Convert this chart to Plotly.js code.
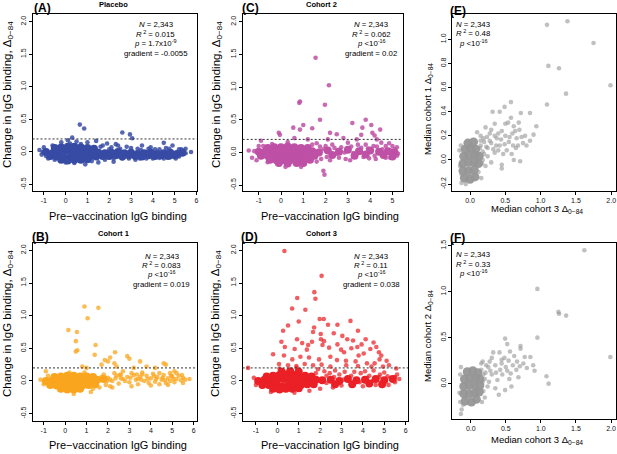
<!DOCTYPE html>
<html><head><meta charset="utf-8">
<script src="https://cdn.plot.ly/plotly-3.0.1.min.js"></script>
<style>html,body{margin:0;padding:0;background:#fff}#chart{width:617px;height:454px}</style>
</head><body><div id="chart"></div>
<script>
// ---------------- DATA ----------------
const panelLetters = ['(A)','(C)','(E)','(B)','(D)','(F)'];
const panelTitles = ['Placebo','Cohort 2','','Cohort 1','Cohort 3',''];
const xTitleChange = 'Pre\u2212vaccination IgG binding';
const yTitleChange = 'Change in IgG binding, \u0394<sub>0\u221284</sub>';
const xTitleMedian = 'Median cohort 3 \u0394<sub>0\u221284</sub>';
const yTitleMedianE = 'Median cohort 1 \u0394<sub>0\u221284</sub>';
const yTitleMedianF = 'Median cohort 2 \u0394<sub>0\u221284</sub>';

const statsA = ['<i>N</i> = 2,343','<i>R</i><sup> 2</sup> = 0.015','<i>p</i> = 1.7x10<sup>-9</sup>','gradient = -0.0055'];
const statsC = ['<i>N</i> = 2,343','<i>R</i><sup> 2</sup> = 0.062','<i>p</i> <10<sup>-16</sup>','gradient = 0.02'];
const statsE = ['<i>N</i> = 2,343','<i>R</i><sup> 2</sup> = 0.48','<i>p</i> <10<sup>-16</sup>'];
const statsB = ['<i>N</i> = 2,343','<i>R</i><sup> 2</sup> = 0.083','<i>p</i> <10<sup>-16</sup>','gradient = 0.019'];
const statsD = ['<i>N</i> = 2,343','<i>R</i><sup> 2</sup> = 0.11','<i>p</i> <10<sup>-16</sup>','gradient = 0.038'];
const statsF = ['<i>N</i> = 2,343','<i>R</i><sup> 2</sup> = 0.33','<i>p</i> <10<sup>-16</sup>'];

const thresholdDelta = 0.2;

const changeYTicks = [-0.5,0,0.5,1,1.5,2];
const changeYText = ['-0.5','0.0','0.5','1.0','1.5','2.0'];
const preXTicks6 = [-1,0,1,2,3,4,5,6];
const preXText6 = ['-1','0','1','2','3','4','5','6'];
const preXTicks5 = [-1,0,1,2,3,4,5];
const preXText5 = ['-1','0','1','2','3','4','5'];
const medXTicks = [0,0.5,1,1.5,2];
const medXText = ['0.0','0.5','1.0','1.5','2.0'];
const medYTicksE = [-0.2,0,0.2,0.4,0.6,0.8,1.0];
const medYTextE = ['-0.2','0.0','0.2','0.4','0.6','0.8','1.0'];
const medYTicksF = [0,0.5,1,1.5];
const medYTextF = ['0.0','0.5','1.0','1.5'];

// Placebo: dense band (core) and individual points [pre, change]
const placeboCore = [[-0.9,0.0],[-0.6,-0.02],[-0.3,0.01],[0.0,0.02],[0.3,0.0],[0.6,0.01],[0.9,-0.01],[1.2,0.0],[1.5,-0.01],[1.8,-0.02],
[-0.7,-0.06],[-0.4,-0.07],[-0.1,-0.08],[0.2,-0.08],[0.5,-0.09],[0.8,-0.08],[1.1,-0.07],[1.4,-0.07],[1.7,-0.06],
[-0.5,0.06],[-0.2,0.07],[0.1,0.08],[0.4,0.08],[0.7,0.07],[1.0,0.06],[1.3,0.05],
[-0.2,-0.12],[0.1,-0.13],[0.4,-0.12],[0.7,-0.12],[1.0,-0.11],
[2.1,-0.01],[2.4,0.0],[2.7,-0.02],[3.0,-0.01],[3.3,-0.03],[3.6,-0.02],[3.9,-0.01],[4.2,-0.03],[4.5,-0.02],[4.8,-0.01],[5.1,-0.03],[5.35,-0.01],
[2.0,-0.06],[2.3,-0.05],[2.6,-0.07],[2.9,-0.05],[3.2,-0.06],[3.5,-0.07],[3.8,-0.05],[4.1,-0.06],[4.4,-0.05],[4.7,-0.06],[5.0,-0.05]];
const placeboPts = [[0.65,0.42],[0.85,0.36],[2.6,0.3],[2.95,0.27],[3.05,0.21],[0.3,0.22],[0.1,0.18],[-0.2,0.15],[1.4,0.17],[1.9,0.13],[2.3,0.12],[4.5,0.14],[4.9,0.1],[3.5,0.1],[-1.2,0.03],[5.75,0.0],[5.5,-0.02],[2.2,-0.15],[0.9,-0.19],[-0.8,-0.1],[1.5,-0.16],[3.2,-0.12],[4.0,-0.1],[5.2,-0.07],[-1.0,0.07],[1.0,0.15],[0.5,0.16],[2.8,0.08],[3.9,0.07],[4.6,0.06],[5.3,0.04],[0.0,-0.16],[0.4,-0.17],[1.2,-0.14],[2.6,-0.1],[4.3,-0.09],[-1.1,-0.04],[-0.6,0.1],[1.7,0.1],[2.1,0.07],[3.3,0.05],[4.1,0.04],[4.8,-0.08],[5.4,0.02],[3.7,-0.1],[2.4,0.1],[1.8,-0.12],[-0.5,-0.12],[0.7,0.12],[0.2,0.13],
[2.0,0.04],[2.5,0.05],[3.0,0.06],[3.45,0.03],[3.8,0.05],[4.3,0.04],[4.75,0.05],[5.2,0.04],[2.2,-0.1],[2.9,-0.1],[3.4,-0.1],[4.5,-0.1],[5.05,-0.1],[5.5,0.05],[-0.9,-0.06],[-1.05,0.0],[1.6,0.08],[1.9,-0.08]];

// Cohort 2
const cohort2Core = [[-1.0,0.01],[-0.7,0.02],[-0.4,0.01],[-0.1,0.0],[0.2,0.02],[0.5,0.01],[0.8,0.0],[1.1,0.01],[1.4,0.02],[1.7,0.0],
[-0.6,0.07],[-0.3,0.08],[0.0,0.08],[0.3,0.09],[0.6,0.08],[0.9,0.07],[1.2,0.07],
[-0.9,-0.05],[-0.6,-0.05],[-0.3,-0.06],[0.0,-0.06],[0.3,-0.05],[0.6,-0.06],[0.9,-0.05],[1.2,-0.06],[1.5,-0.05],
[-0.5,-0.11],[-0.2,-0.12],[0.1,-0.12],[0.4,-0.12],[0.7,-0.11],[1.0,-0.12],[1.3,-0.11],
[-0.1,-0.16],[0.3,-0.17],[0.7,-0.16],[1.0,-0.16],
[2.1,0.03],[2.6,0.01],[3.0,0.04],[3.5,0.02],[4.0,0.03],[4.4,0.01],[4.8,0.02],[5.1,0.0],
[2.3,-0.04],[3.3,-0.05],[3.8,-0.03],[4.6,-0.04],[5.0,-0.06]];
const cohort2Pts = [[1.55,1.45],[2.15,1.03],[0.85,0.78],[0.82,0.76],[1.97,0.73],[1.75,0.5],[3.2,0.45],[3.8,0.5],[3.65,0.38],[4.05,0.42],[4.1,0.3],[4.2,0.26],[4.45,0.35],[1.0,0.42],[1.4,0.37],[0.85,0.35],[0.55,0.38],[2.2,0.3],[2.5,0.28],[-0.1,0.3],[-0.05,0.27],[2.1,0.2],[2.8,0.22],[3.4,0.2],[1.9,-0.28],[1.95,-0.34],[-0.6,-0.15],[-1.1,-0.12],[-1.45,0.03],[5.2,-0.05],[5.1,0.05],[4.7,0.1],[4.5,0.15],[3.1,-0.12],[2.6,-0.08],[3.0,0.15],[3.8,0.12],[-0.9,0.18],[0.6,0.22],[1.2,0.2],[2.9,-0.1],[4.9,-0.08],[5.0,0.1],[4.2,-0.05],[1.6,0.14],[2.0,0.1],[2.4,0.07],[3.6,0.07],[4.3,0.09],[-1.3,-0.08],[-0.4,0.13],[0.3,0.16],[1.4,0.12],[1.8,-0.1],[2.2,-0.12],[0.2,-0.22],[0.9,-0.22],[-1.0,0.1],[3.6,0.27],[4.3,0.2],
[1.9,0.05],[2.3,0.12],[2.5,-0.02],[2.7,0.08],[2.85,0.0],[3.15,0.09],[3.25,-0.01],[3.45,0.12],[3.7,-0.07],[3.9,0.06],[4.15,0.1],[4.25,-0.1],[4.55,0.05],[4.7,-0.08],[4.85,0.14],[4.95,0.03],[5.2,0.08],[5.25,-0.02],[3.95,-0.09],[2.05,-0.07],[1.75,0.09],[-1.2,0.02],[-0.8,0.1],[1.6,-0.14]];

// Cohort 1
const cohort1Core = [[-0.9,0.0],[-0.6,0.01],[-0.3,0.0],[0.0,0.01],[0.3,0.0],[0.6,0.01],[0.9,0.02],[1.2,0.01],[1.5,0.02],[1.8,0.03],
[-0.7,-0.06],[-0.4,-0.07],[-0.1,-0.08],[0.2,-0.09],[0.5,-0.08],[0.8,-0.07],[1.1,-0.06],[1.4,-0.05],
[-0.5,0.06],[-0.2,0.07],[0.1,0.08],[0.4,0.08],[0.7,0.07],[1.0,0.07],[1.3,0.06],
[-0.2,-0.12],[0.1,-0.13],[0.4,-0.13],[0.7,-0.12]];
const cohort1Pts = [[0.9,1.14],[1.55,1.12],[1.05,0.96],[0.15,0.78],[0.55,0.75],[0.5,0.61],[0.57,0.47],[0.5,0.45],[1.42,0.55],[1.38,0.4],[2.33,0.44],[2.1,0.36],[1.85,0.32],[2.0,0.3],[2.3,0.27],[2.9,0.38],[3.0,0.34],[3.5,0.3],[4.6,0.27],[4.7,0.25],[2.4,0.22],[1.7,0.25],[3.2,0.2],[3.8,0.22],[4.2,0.2],[5.1,0.15],[5.8,0.03],[-0.9,0.15],[0.8,0.22],[1.0,0.2],[-1.15,0.02],[0.4,-0.2],[1.2,-0.17],[2.2,-0.1],[3.1,-0.08],[4.4,-0.05],[5.5,-0.03],[2.7,0.15],[3.6,0.13],[4.9,0.12],[2.6,0.1],
[2.0,0.05],[2.2,0.0],[2.4,0.08],[2.5,-0.04],[2.7,0.03],[2.9,0.06],[3.0,-0.02],[3.2,0.09],[3.3,0.02],[3.4,-0.05],[3.5,0.06],[3.7,0.0],[3.8,0.08],[3.9,-0.03],[4.0,0.04],[4.1,0.11],[4.2,-0.01],[4.3,0.06],[4.5,0.02],[4.6,0.09],[4.7,-0.03],[4.8,0.04],[4.9,0.0],[5.0,0.07],[5.1,-0.02],[5.2,0.03],[5.3,0.08],[5.4,0.01],[5.5,0.05],[5.6,0.02],[1.8,0.1],[1.9,-0.06],[2.1,-0.08],[3.6,0.1],[4.4,0.12],[5.2,0.12],[2.3,0.12],[3.1,0.12],[4.0,-0.07],[4.8,-0.06],[1.6,-0.1],[1.7,0.06],[2.6,0.04],[3.4,0.03],[4.55,0.05],
[2.1,0.02],[2.35,0.04],[2.8,0.0],[3.05,0.05],[3.55,0.02],[3.85,0.03],[4.25,0.03],[4.65,0.01],[5.05,0.03],[5.45,0.09],[2.55,0.09],[3.35,0.1],[4.15,0.08],[4.95,0.08],[1.95,0.0],[-1.0,-0.05],[-0.8,0.08],[0.2,0.13],[0.9,0.13],[1.3,-0.12]];

// Cohort 3
const cohort3Core = [[-0.9,0.0],[-0.6,0.02],[-0.3,0.01],[0.0,0.02],[0.3,0.03],[0.6,0.02],[0.9,0.03],[1.2,0.02],[1.5,0.03],[1.8,0.02],[2.1,0.01],
[-0.7,-0.06],[-0.4,-0.06],[-0.1,-0.07],[0.2,-0.08],[0.5,-0.07],[0.8,-0.06],[1.1,-0.06],[1.4,-0.05],[1.7,-0.05],
[-0.5,0.07],[-0.2,0.08],[0.1,0.09],[0.4,0.1],[0.7,0.1],[1.0,0.09],[1.3,0.08],[1.6,0.07],
[-0.2,-0.12],[0.1,-0.13],[0.4,-0.12],[0.7,-0.12],[1.0,-0.11],
[0.2,0.14],[0.6,0.15],[1.0,0.14],
[2.5,0.02],[2.9,0.0],[3.3,0.03],[3.7,0.01],[4.1,0.02],[4.6,0.03],[5.0,0.01],[5.4,0.03],
[2.7,-0.05],[3.5,-0.05],[4.3,-0.04],[4.9,-0.05]];
const cohort3Pts = [[0.33,1.99],[2.07,1.61],[1.73,1.36],[1.78,1.26],[0.93,1.27],[1.31,1.09],[0.69,1.11],[1.0,0.91],[1.98,0.95],[2.17,0.95],[0.5,0.85],[2.37,0.86],[2.81,0.86],[3.42,0.92],[0.27,0.77],[1.72,0.82],[1.67,0.75],[2.03,0.72],[2.64,0.73],[3.04,0.69],[3.77,0.77],[2.04,0.64],[0.92,0.64],[0.19,0.6],[1.16,0.58],[1.62,0.6],[2.18,0.61],[3.27,0.64],[1.44,0.55],[2.11,0.55],[2.81,0.56],[3.54,0.62],[4.13,0.64],[3.94,0.56],[4.5,0.59],[0.35,0.52],[0.81,0.49],[1.38,0.48],[2.42,0.51],[2.98,0.48],[3.12,0.44],[3.46,0.5],[3.74,0.52],[4.04,0.42],[4.35,0.49],[4.63,0.52],[4.75,0.44],[4.86,0.39],[4.78,0.33],[5.11,0.31],[5.22,0.24],[-0.2,0.41],[0.31,0.39],[0.7,0.33],[1.08,0.37],[1.48,0.36],[1.95,0.33],[2.48,0.37],[2.79,0.32],[3.21,0.31],[3.66,0.3],[3.8,0.39],[4.19,0.27],[4.55,0.27],[0.08,0.26],[0.5,0.24],[0.89,0.23],[1.28,0.26],[1.67,0.24],[2.07,0.25],[2.48,0.22],[3.22,0.24],[3.77,0.23],[4.4,0.22],[4.94,0.22],[5.56,0.19],[-1.37,0.2],
[1.8,0.12],[2.3,0.08],[2.9,0.1],[3.3,0.05],[3.9,0.12],[4.3,0.08],[4.8,0.1],[5.3,0.05],[5.6,0.1],[5.7,0.03],[5.5,-0.02],[4.6,-0.06],[3.5,-0.05],[2.6,-0.1],[1.5,-0.15],[0.8,-0.18],[-0.3,-0.17],[-1.1,0.05],[-1.0,-0.06],[2.2,0.15],[3.0,-0.07],[4.0,-0.08],[5.2,-0.06],[2.0,-0.12],[3.6,0.14],[4.5,0.16],[5.0,0.13],[2.7,0.16],
[2.3,-0.03],[2.65,0.06],[3.1,0.02],[3.45,0.08],[3.85,-0.02],[4.2,0.05],[4.45,0.0],[4.75,0.06],[5.15,0.07],[5.5,0.06],[2.45,0.12],[3.15,0.14],[4.1,0.15],[1.9,0.18],[0.9,0.2],[0.1,0.19]];

// Median cohort 3 vs median cohort 1 (E)
const medianECore = [[-0.08,-0.15],[0.0,-0.16],[0.07,-0.14],[-0.1,-0.09],[-0.02,-0.09],[0.06,-0.08],[-0.1,-0.03],[-0.02,-0.02],[0.06,-0.02],[0.12,-0.03],[-0.09,0.03],[-0.01,0.04],[0.07,0.04],[0.13,0.03],[-0.07,0.09],[0.01,0.1],[0.08,0.09],[-0.03,0.14],[0.05,0.15]];
const medianEPts = [[1.09,1.12],[1.38,1.15],[1.75,0.97],[1.11,0.78],[1.26,0.76],[1.36,0.55],[1.99,0.62],[1.09,0.46],[0.58,0.48],[0.49,0.44],[0.32,0.4],[0.42,0.4],[0.72,0.39],[0.85,0.39],[0.94,0.28],[0.9,0.21],[0.73,0.19],[0.69,0.31],[0.54,0.31],[0.64,0.24],[0.45,0.24],[0.35,0.2],[0.28,0.16],[0.49,0.13],[0.23,0.11],[0.4,0.08],[0.59,0.05],[0.45,-0.04],[0.71,-0.01],[0.3,-0.02],[0.1,0.23],[0.19,0.18],
[0.15,0.12],[0.2,0.05],[0.25,0.1],[0.3,0.14],[0.35,0.06],[0.38,0.18],[0.42,0.12],[0.5,0.2],[0.55,0.15],[0.6,0.22],[0.65,0.1],[0.7,0.25],[0.8,0.12],[0.5,0.3],[0.18,0.0],[0.22,-0.05],[0.3,0.25],[0.15,0.2],[0.12,-0.1],[0.16,-0.15],[-0.12,-0.19],[-0.06,-0.2],[-0.15,0.08],[-0.14,-0.05],[0.14,0.1],[0.2,0.15],[0.25,0.03],[0.52,0.08],[0.62,0.0],[0.68,0.12],[0.78,0.2],[0.85,0.16],[0.58,0.35],[0.45,-0.07],[0.35,0.3],[0.62,0.28],[0.4,0.22],[0.28,0.22],
[0.18,0.07],[0.24,0.19],[0.33,0.09],[0.37,0.12],[0.44,0.17],[0.47,0.05],[0.56,0.19],[0.61,0.12],[0.66,0.18],[0.75,0.14],[0.22,0.27],[0.17,-0.03],[-0.13,0.12],[-0.12,-0.12],[0.15,0.16]];

// Median cohort 3 vs median cohort 2 (F)
const medianFCore = [[-0.08,-0.19],[0.01,-0.2],[0.08,-0.17],[-0.1,-0.11],[-0.02,-0.11],[0.06,-0.1],[0.12,-0.09],[-0.1,-0.03],[-0.02,-0.02],[0.06,-0.02],[0.13,-0.02],[-0.09,0.05],[-0.01,0.06],[0.07,0.06],[0.13,0.05],[-0.05,0.13],[0.03,0.14],[0.1,0.12]];
const medianFPts = [[1.62,1.45],[0.95,1.03],[1.25,0.78],[1.26,0.76],[1.36,0.74],[0.95,0.5],[1.99,0.29],[1.08,0.08],[1.11,0.0],[0.49,0.49],[0.52,0.43],[0.71,0.41],[0.71,0.38],[0.32,0.34],[0.41,0.34],[0.56,0.35],[0.77,0.29],[0.85,0.29],[0.89,0.2],[0.91,0.14],[0.66,0.24],[0.54,0.25],[0.44,0.22],[0.27,0.24],[0.17,0.24],[0.25,0.18],[0.42,0.15],[0.57,0.11],[0.68,0.07],[0.58,-0.03],[0.4,-0.12],[0.49,-0.07],[-0.13,-0.28],[-0.14,-0.33],[-0.11,-0.23],[0.21,0.12],
[0.15,0.15],[0.2,0.05],[0.3,0.1],[0.35,0.2],[0.45,0.1],[0.5,0.18],[0.6,0.2],[0.65,0.15],[0.75,0.22],[0.55,0.05],[0.3,0.28],[0.18,-0.08],[0.2,-0.15],[-0.15,0.1],[-0.16,-0.1],[0.15,0.22],[0.38,0.04],[0.48,0.28],[0.62,0.3],[0.8,0.17],[0.26,0.02],[0.35,-0.05],
[0.22,0.2],[0.28,0.14],[0.36,0.12],[0.44,0.26],[0.52,0.14],[0.7,0.19],[0.18,0.1],[0.24,-0.03],[-0.14,0.18],[-0.15,-0.2],[0.16,-0.2],[0.17,0.02]];

// ---------------- LAYOUT / STYLE ----------------
const W = 617, H = 454;
const FONT = '"Liberation Sans", Arial, Helvetica, sans-serif';
const px = v => v / W;
const py = v => 1 - v / H;

const panels = [
  {core: placeboCore, pts: placeboPts, rgb:'55,75,165', coreA:1, ptA:0.85, box:[32.5,196.7,14,191], xr:[-1.52,6.01], yr:[-0.599,2.118], xt:[preXTicks6,preXText6], yt:[changeYTicks,changeYText], dash:true,
   stats: statsA, statX: 156, statY:[25,34,43,53.5], xTitle:[xTitleChange,118,216,11], yTitle:[yTitleChange,8,95,11.5]},
  {core: cohort2Core, pts: cohort2Pts, rgb:'190,80,165', coreA:1, ptA:0.85, box:[242.7,402.7,14,191], xr:[-1.72,5.46], yr:[-0.59,2.12], xt:[preXTicks5,preXText5], yt:[changeYTicks,changeYText], dash:true,
   stats: statsC, statX: 371, statY:[25,34,43,53.5], xTitle:[xTitleChange,330,216,11], yTitle:[yTitleChange,217,95,11.5]},
  {core: medianECore, pts: medianEPts, rgb:'150,150,150', coreA:0.95, ptA:0.6, box:[452.3,616,14,191], xr:[-0.251,2.068], yr:[-0.257,1.21], xt:[medXTicks,medXText], yt:[medYTicksE,medYTextE], dash:false,
   stats: statsE, statX: 473, statY:[24.5,33,42.5], xTitle:[xTitleMedian,537,209,9.5], yTitle:[yTitleMedianE,428,109,9.5], big:true},
  {core: cohort1Core, pts: cohort1Pts, rgb:'250,165,30', coreA:1, ptA:0.75, box:[33,196.7,243,421], xr:[-1.5,6.14], yr:[-0.613,2.113], xt:[preXTicks6,preXText6], yt:[changeYTicks,changeYText], dash:true,
   stats: statsB, statX: 161.5, statY:[256.5,265,274,284.5], xTitle:[xTitleChange,118,445,11], yTitle:[yTitleChange,8,324,11.5]},
  {core: cohort3Core, pts: cohort3Pts, rgb:'234,32,38', coreA:1, ptA:0.72, box:[242.7,408,243,421], xr:[-1.62,6.11], yr:[-0.613,2.113], xt:[preXTicks6,preXText6], yt:[changeYTicks,changeYText], dash:true,
   stats: statsD, statX: 371, statY:[256.5,265,274,284.5], xTitle:[xTitleChange,330,445,11], yTitle:[yTitleChange,216,324,11.5]},
  {core: medianFCore, pts: medianFPts, rgb:'150,150,150', coreA:0.95, ptA:0.6, box:[452.3,616,243,419], xr:[-0.263,2.071], yr:[-0.384,1.529], xt:[medXTicks,medXText], yt:[medYTicksF,medYTextF], dash:false,
   stats: statsF, statX: 473, statY:[254.5,263.5,273], xTitle:[xTitleMedian,537,440,9.5], yTitle:[yTitleMedianF,428,336,9.5], big:true}
];
const letterPos = [[32,8],[240,8],[448,11],[30,237],[239,237],[448,238]];
const titlePos = [[113,5],[321,5],null,[113,233],[321,233],null];

const data = [];
const layout = {
  width: W, height: H, margin:{l:0,r:0,t:0,b:0}, paper_bgcolor:'#fff', plot_bgcolor:'#fff',
  showlegend:false, font:{family:FONT, color:'#000'}, annotations:[], shapes:[]
};

panels.forEach((p, i) => {
  const n = i + 1;
  const xa = n === 1 ? 'xaxis' : 'xaxis' + n;
  const ya = n === 1 ? 'yaxis' : 'yaxis' + n;
  const xr = n === 1 ? 'x' : 'x' + n;
  const yr = n === 1 ? 'y' : 'y' + n;
  const common = {showline:true, mirror:true, linecolor:'#000', linewidth:1, ticks:'outside', ticklen:3, tickwidth:1, tickcolor:'#000',
    tickfont:{size:7, family:FONT, color:'#111'}, showgrid:false, zeroline:false, fixedrange:true, tickmode:'array'};
  layout[xa] = Object.assign({}, common, {domain:[px(p.box[0]), px(p.box[1])], range:p.xr, tickvals:p.xt[0], ticktext:p.xt[1], anchor:yr});
  layout[ya] = Object.assign({}, common, {domain:[py(p.box[3]), py(p.box[2])], range:p.yr, tickvals:p.yt[0], ticktext:p.yt[1], anchor:xr, tickangle:-90});

  data.push({type:'scatter', mode:'markers', xaxis:xr, yaxis:yr, hoverinfo:'skip',
    x:p.pts.map(d=>d[0]), y:p.pts.map(d=>d[1]),
    marker:{size:4.6, color:`rgba(${p.rgb},${p.ptA})`, line:{width:0}}});
  data.push({type:'scatter', mode:'markers', xaxis:xr, yaxis:yr, hoverinfo:'skip',
    x:p.core.map(d=>d[0]), y:p.core.map(d=>d[1]),
    marker:{size: p.big ? 9 : 8, color:`rgba(${p.rgb},${p.coreA})`, line:{width:0}}});

  if (p.dash) {
    layout.shapes.push({type:'line', xref: xr + ' domain', x0:0, x1:1, yref:yr, y0:thresholdDelta, y1:thresholdDelta,
      line:{color:'#333', width:1, dash:'2px,2px'}});
  }
  p.stats.forEach((t, k) => {
    layout.annotations.push({xref:'paper', yref:'paper', x:px(p.statX), y:py(p.statY[k]), xanchor:'center', yanchor:'middle',
      text:t, showarrow:false, font:{size:7.8, family:FONT, color:'#000'}});
  });
  layout.annotations.push({xref:'paper', yref:'paper', x:px(p.xTitle[1]), y:py(p.xTitle[2]), xanchor:'center', yanchor:'middle',
    text:p.xTitle[0], showarrow:false, font:{size:p.xTitle[3], family:FONT, color:'#000'}});
  layout.annotations.push({xref:'paper', yref:'paper', x:px(p.yTitle[1]), y:py(p.yTitle[2]), xanchor:'center', yanchor:'middle',
    text:p.yTitle[0], textangle:-90, showarrow:false, font:{size:p.yTitle[3], family:FONT, color:'#000'}});
  layout.annotations.push({xref:'paper', yref:'paper', x:px(letterPos[i][0]), y:py(letterPos[i][1]), xanchor:'left', yanchor:'middle',
    text:'<b>' + panelLetters[i] + '</b>', showarrow:false, font:{size:12, family:FONT, color:'#000'}});
  if (titlePos[i]) {
    layout.annotations.push({xref:'paper', yref:'paper', x:px(titlePos[i][0]), y:py(titlePos[i][1]), xanchor:'center', yanchor:'middle',
      text:'<b>' + panelTitles[i] + '</b>', showarrow:false, font:{size:7.5, family:FONT, color:'#000'}});
  }
});

Plotly.newPlot('chart', data, layout, {staticPlot:true, displayModeBar:false});
</script>
</body></html>
